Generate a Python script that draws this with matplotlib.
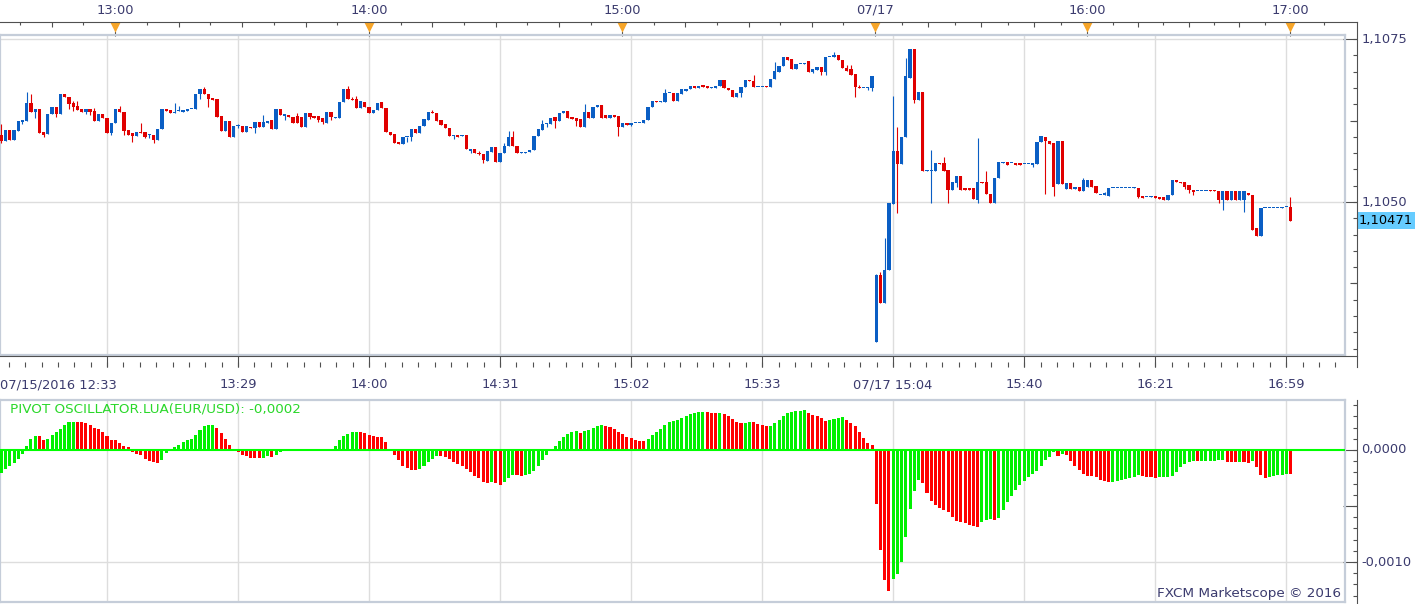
import numpy as np
import matplotlib.pyplot as plt
from matplotlib.lines import Line2D
from matplotlib.transforms import blended_transform_factory as blend

# EUR/USD 1-minute candles, 07/15 12:33 .. 07/17 16:59 (bar index on x)
opens = [
    1.10603, 1.10594, 1.10610, 1.10595, 1.10609, 1.10623, 1.10624, 1.10652, 1.10638, 1.10643,
    1.10607, 1.10604, 1.10635, 1.10646, 1.10635, 1.10666, 1.10661, 1.10652, 1.10647, 1.10643,
    1.10638, 1.10643, 1.10640, 1.10624, 1.10635, 1.10629, 1.10606, 1.10621, 1.10643, 1.10638,
    1.10610, 1.10606, 1.10601, 1.10607, 1.10607, 1.10603, 1.10603, 1.10595, 1.10612, 1.10643,
    1.10641, 1.10637, 1.10640, 1.10638, 1.10640, 1.10643, 1.10643, 1.10666, 1.10673, 1.10666,
    1.10660, 1.10658, 1.10632, 1.10609, 1.10624, 1.10600, 1.10617, 1.10617, 1.10607, 1.10615,
    1.10614, 1.10623, 1.10615, 1.10621, 1.10626, 1.10612, 1.10643, 1.10632, 1.10633, 1.10630,
    1.10632, 1.10630, 1.10615, 1.10637, 1.10632, 1.10632, 1.10629, 1.10621, 1.10638, 1.10629,
    1.10629, 1.10653, 1.10673, 1.10658, 1.10658, 1.10644, 1.10653, 1.10646, 1.10637, 1.10641,
    1.10653, 1.10644, 1.10607, 1.10604, 1.10592, 1.10589, 1.10600, 1.10600, 1.10612, 1.10606,
    1.10617, 1.10626, 1.10638, 1.10637, 1.10626, 1.10620, 1.10614, 1.10601, 1.10603, 1.10601,
    1.10603, 1.10578, 1.10581, 1.10575, 1.10574, 1.10563, 1.10577, 1.10584, 1.10561, 1.10575,
    1.10586, 1.10600, 1.10586, 1.10575, 1.10575, 1.10577, 1.10580, 1.10601, 1.10610, 1.10620,
    1.10620, 1.10630, 1.10624, 1.10637, 1.10640, 1.10630, 1.10629, 1.10627, 1.10615, 1.10638,
    1.10629, 1.10646, 1.10649, 1.10633, 1.10629, 1.10633, 1.10632, 1.10615, 1.10621, 1.10618,
    1.10621, 1.10621, 1.10621, 1.10626, 1.10646, 1.10655, 1.10653, 1.10653, 1.10667, 1.10667,
    1.10655, 1.10666, 1.10670, 1.10673, 1.10678, 1.10675, 1.10679, 1.10678, 1.10675, 1.10675,
    1.10678, 1.10687, 1.10675, 1.10672, 1.10661, 1.10667, 1.10676, 1.10687, 1.10686, 1.10676,
    1.10676, 1.10678, 1.10676, 1.10689, 1.10700, 1.10709, 1.10723, 1.10720, 1.10704, 1.10712,
    1.10712, 1.10716, 1.10699, 1.10703, 1.10707, 1.10700, 1.10723, 1.10723, 1.10726, 1.10718,
    1.10706, 1.10704, 1.10696, 1.10677, 1.10675, 1.10675, 1.10675, 1.10285, 1.10388, 1.10345,
    1.10396, 1.10497, 1.10578, 1.10558, 1.10600, 1.10690, 1.10735, 1.10656, 1.10669, 1.10548,
    1.10548, 1.10548, 1.10560, 1.10560, 1.10549, 1.10518, 1.10529, 1.10540, 1.10521, 1.10521,
    1.10521, 1.10503, 1.10531, 1.10531, 1.10512, 1.10498, 1.10537, 1.10560, 1.10561, 1.10560,
    1.10560, 1.10560, 1.10558, 1.10558, 1.10557, 1.10558, 1.10592, 1.10600, 1.10594, 1.10591,
    1.10528, 1.10594, 1.10520, 1.10529, 1.10520, 1.10523, 1.10517, 1.10523, 1.10534, 1.10525,
    1.10511, 1.10511, 1.10509, 1.10521, 1.10521, 1.10521, 1.10521, 1.10521, 1.10521, 1.10521,
    1.10509, 1.10508, 1.10508, 1.10509, 1.10508, 1.10508, 1.10503, 1.10511, 1.10534, 1.10531,
    1.10531, 1.10526, 1.10518, 1.10517, 1.10517, 1.10517, 1.10518, 1.10518, 1.10517, 1.10503,
    1.10517, 1.10503, 1.10517, 1.10503, 1.10503, 1.10514, 1.10511, 1.10460, 1.10448, 1.10491,
    1.10491, 1.10491, 1.10491, 1.10491, 1.10492, 1.10492,
]
highs = [
    1.10620, 1.10610, 1.10610, 1.10610, 1.10624, 1.10626, 1.10669, 1.10666, 1.10643, 1.10643,
    1.10607, 1.10635, 1.10646, 1.10646, 1.10666, 1.10666, 1.10661, 1.10655, 1.10655, 1.10643,
    1.10643, 1.10643, 1.10644, 1.10635, 1.10635, 1.10629, 1.10621, 1.10643, 1.10647, 1.10638,
    1.10610, 1.10606, 1.10607, 1.10621, 1.10607, 1.10604, 1.10603, 1.10612, 1.10643, 1.10643,
    1.10641, 1.10652, 1.10647, 1.10641, 1.10643, 1.10643, 1.10666, 1.10673, 1.10676, 1.10666,
    1.10660, 1.10658, 1.10632, 1.10624, 1.10624, 1.10617, 1.10620, 1.10617, 1.10617, 1.10615,
    1.10623, 1.10623, 1.10633, 1.10624, 1.10626, 1.10643, 1.10643, 1.10635, 1.10633, 1.10630,
    1.10637, 1.10630, 1.10637, 1.10637, 1.10632, 1.10632, 1.10629, 1.10638, 1.10638, 1.10630,
    1.10653, 1.10673, 1.10678, 1.10661, 1.10663, 1.10655, 1.10653, 1.10646, 1.10641, 1.10652,
    1.10653, 1.10644, 1.10607, 1.10604, 1.10592, 1.10600, 1.10600, 1.10612, 1.10612, 1.10617,
    1.10627, 1.10638, 1.10641, 1.10637, 1.10626, 1.10620, 1.10614, 1.10603, 1.10603, 1.10603,
    1.10603, 1.10581, 1.10581, 1.10578, 1.10574, 1.10578, 1.10584, 1.10584, 1.10575, 1.10591,
    1.10609, 1.10609, 1.10586, 1.10576, 1.10577, 1.10580, 1.10601, 1.10612, 1.10626, 1.10621,
    1.10629, 1.10630, 1.10637, 1.10640, 1.10640, 1.10630, 1.10629, 1.10627, 1.10650, 1.10638,
    1.10646, 1.10649, 1.10649, 1.10633, 1.10633, 1.10633, 1.10632, 1.10621, 1.10621, 1.10621,
    1.10621, 1.10621, 1.10626, 1.10646, 1.10655, 1.10655, 1.10655, 1.10673, 1.10667, 1.10667,
    1.10667, 1.10673, 1.10673, 1.10678, 1.10678, 1.10678, 1.10679, 1.10678, 1.10676, 1.10678,
    1.10687, 1.10687, 1.10675, 1.10672, 1.10667, 1.10676, 1.10687, 1.10687, 1.10695, 1.10677,
    1.10677, 1.10678, 1.10689, 1.10715, 1.10709, 1.10723, 1.10723, 1.10720, 1.10712, 1.10712,
    1.10713, 1.10716, 1.10704, 1.10707, 1.10707, 1.10723, 1.10723, 1.10730, 1.10726, 1.10718,
    1.10710, 1.10710, 1.10696, 1.10679, 1.10675, 1.10676, 1.10693, 1.10390, 1.10392, 1.10445,
    1.10498, 1.10663, 1.10615, 1.10600, 1.10721, 1.10735, 1.10735, 1.10669, 1.10669, 1.10549,
    1.10580, 1.10560, 1.10560, 1.10569, 1.10549, 1.10531, 1.10540, 1.10540, 1.10521, 1.10521,
    1.10521, 1.10598, 1.10531, 1.10548, 1.10512, 1.10537, 1.10561, 1.10561, 1.10561, 1.10560,
    1.10560, 1.10560, 1.10558, 1.10558, 1.10560, 1.10592, 1.10601, 1.10600, 1.10594, 1.10591,
    1.10594, 1.10594, 1.10529, 1.10529, 1.10523, 1.10523, 1.10537, 1.10534, 1.10534, 1.10525,
    1.10511, 1.10515, 1.10521, 1.10521, 1.10521, 1.10521, 1.10521, 1.10521, 1.10523, 1.10521,
    1.10509, 1.10508, 1.10509, 1.10509, 1.10508, 1.10508, 1.10511, 1.10534, 1.10534, 1.10531,
    1.10531, 1.10526, 1.10518, 1.10517, 1.10517, 1.10517, 1.10518, 1.10518, 1.10517, 1.10517,
    1.10517, 1.10517, 1.10517, 1.10517, 1.10517, 1.10514, 1.10511, 1.10460, 1.10491, 1.10491,
    1.10491, 1.10491, 1.10491, 1.10492, 1.10492, 1.10508,
]
lows = [
    1.10591, 1.10594, 1.10595, 1.10595, 1.10609, 1.10620, 1.10624, 1.10638, 1.10629, 1.10606,
    1.10600, 1.10604, 1.10635, 1.10630, 1.10635, 1.10661, 1.10643, 1.10640, 1.10641, 1.10638,
    1.10635, 1.10633, 1.10624, 1.10624, 1.10629, 1.10606, 1.10603, 1.10621, 1.10638, 1.10603,
    1.10603, 1.10592, 1.10601, 1.10606, 1.10598, 1.10598, 1.10591, 1.10595, 1.10612, 1.10640,
    1.10637, 1.10637, 1.10640, 1.10638, 1.10640, 1.10643, 1.10643, 1.10658, 1.10666, 1.10646,
    1.10656, 1.10630, 1.10609, 1.10609, 1.10600, 1.10600, 1.10614, 1.10607, 1.10607, 1.10614,
    1.10606, 1.10615, 1.10615, 1.10621, 1.10612, 1.10612, 1.10633, 1.10626, 1.10630, 1.10621,
    1.10621, 1.10615, 1.10615, 1.10627, 1.10629, 1.10623, 1.10620, 1.10621, 1.10626, 1.10629,
    1.10629, 1.10653, 1.10658, 1.10656, 1.10644, 1.10644, 1.10646, 1.10637, 1.10637, 1.10641,
    1.10644, 1.10607, 1.10603, 1.10591, 1.10589, 1.10589, 1.10592, 1.10594, 1.10606, 1.10606,
    1.10617, 1.10626, 1.10637, 1.10624, 1.10618, 1.10614, 1.10601, 1.10597, 1.10600, 1.10601,
    1.10581, 1.10575, 1.10575, 1.10572, 1.10560, 1.10563, 1.10577, 1.10561, 1.10561, 1.10575,
    1.10586, 1.10586, 1.10575, 1.10575, 1.10575, 1.10577, 1.10580, 1.10601, 1.10610, 1.10615,
    1.10620, 1.10614, 1.10624, 1.10637, 1.10629, 1.10627, 1.10617, 1.10615, 1.10615, 1.10629,
    1.10629, 1.10646, 1.10629, 1.10629, 1.10629, 1.10630, 1.10601, 1.10615, 1.10618, 1.10617,
    1.10621, 1.10621, 1.10621, 1.10626, 1.10646, 1.10653, 1.10653, 1.10653, 1.10667, 1.10655,
    1.10655, 1.10666, 1.10670, 1.10673, 1.10675, 1.10675, 1.10677, 1.10675, 1.10675, 1.10675,
    1.10678, 1.10675, 1.10672, 1.10661, 1.10661, 1.10661, 1.10676, 1.10686, 1.10676, 1.10676,
    1.10676, 1.10676, 1.10676, 1.10689, 1.10700, 1.10709, 1.10718, 1.10704, 1.10704, 1.10712,
    1.10712, 1.10699, 1.10698, 1.10703, 1.10695, 1.10695, 1.10723, 1.10723, 1.10718, 1.10706,
    1.10701, 1.10695, 1.10661, 1.10675, 1.10675, 1.10672, 1.10670, 1.10285, 1.10345, 1.10345,
    1.10396, 1.10497, 1.10483, 1.10558, 1.10600, 1.10690, 1.10652, 1.10656, 1.10548, 1.10548,
    1.10498, 1.10548, 1.10558, 1.10548, 1.10498, 1.10518, 1.10523, 1.10518, 1.10518, 1.10518,
    1.10505, 1.10498, 1.10529, 1.10512, 1.10498, 1.10498, 1.10537, 1.10560, 1.10557, 1.10560,
    1.10557, 1.10557, 1.10558, 1.10558, 1.10554, 1.10558, 1.10592, 1.10512, 1.10589, 1.10509,
    1.10528, 1.10528, 1.10520, 1.10520, 1.10520, 1.10517, 1.10517, 1.10523, 1.10523, 1.10514,
    1.10511, 1.10511, 1.10509, 1.10521, 1.10521, 1.10521, 1.10521, 1.10521, 1.10521, 1.10506,
    1.10506, 1.10508, 1.10508, 1.10506, 1.10505, 1.10503, 1.10503, 1.10511, 1.10531, 1.10529,
    1.10520, 1.10514, 1.10511, 1.10517, 1.10517, 1.10517, 1.10517, 1.10517, 1.10498, 1.10488,
    1.10503, 1.10503, 1.10503, 1.10503, 1.10485, 1.10511, 1.10457, 1.10448, 1.10448, 1.10491,
    1.10491, 1.10491, 1.10491, 1.10491, 1.10492, 1.10471,
]
closes = [
    1.10594, 1.10610, 1.10595, 1.10610, 1.10624, 1.10626, 1.10652, 1.10638, 1.10643, 1.10606,
    1.10603, 1.10635, 1.10646, 1.10635, 1.10666, 1.10661, 1.10650, 1.10646, 1.10641, 1.10638,
    1.10643, 1.10638, 1.10624, 1.10635, 1.10629, 1.10606, 1.10621, 1.10643, 1.10638, 1.10609,
    1.10603, 1.10601, 1.10607, 1.10606, 1.10600, 1.10603, 1.10595, 1.10612, 1.10643, 1.10640,
    1.10637, 1.10638, 1.10640, 1.10641, 1.10643, 1.10643, 1.10666, 1.10673, 1.10666, 1.10658,
    1.10656, 1.10630, 1.10609, 1.10624, 1.10600, 1.10617, 1.10617, 1.10607, 1.10617, 1.10614,
    1.10623, 1.10615, 1.10623, 1.10624, 1.10612, 1.10643, 1.10633, 1.10635, 1.10630, 1.10621,
    1.10621, 1.10615, 1.10637, 1.10630, 1.10629, 1.10626, 1.10623, 1.10638, 1.10630, 1.10630,
    1.10653, 1.10673, 1.10658, 1.10656, 1.10644, 1.10655, 1.10646, 1.10637, 1.10641, 1.10652,
    1.10644, 1.10607, 1.10603, 1.10591, 1.10589, 1.10600, 1.10600, 1.10612, 1.10606, 1.10617,
    1.10627, 1.10638, 1.10637, 1.10624, 1.10618, 1.10614, 1.10601, 1.10603, 1.10600, 1.10603,
    1.10581, 1.10581, 1.10575, 1.10574, 1.10564, 1.10578, 1.10584, 1.10561, 1.10575, 1.10586,
    1.10600, 1.10586, 1.10575, 1.10576, 1.10577, 1.10580, 1.10601, 1.10612, 1.10620, 1.10621,
    1.10629, 1.10624, 1.10637, 1.10640, 1.10629, 1.10627, 1.10624, 1.10615, 1.10638, 1.10629,
    1.10646, 1.10649, 1.10629, 1.10629, 1.10633, 1.10630, 1.10615, 1.10621, 1.10618, 1.10621,
    1.10621, 1.10621, 1.10626, 1.10646, 1.10655, 1.10653, 1.10655, 1.10667, 1.10667, 1.10655,
    1.10667, 1.10673, 1.10673, 1.10678, 1.10675, 1.10678, 1.10677, 1.10675, 1.10676, 1.10678,
    1.10687, 1.10675, 1.10672, 1.10661, 1.10667, 1.10676, 1.10687, 1.10686, 1.10676, 1.10677,
    1.10677, 1.10676, 1.10689, 1.10701, 1.10709, 1.10723, 1.10718, 1.10704, 1.10712, 1.10712,
    1.10713, 1.10699, 1.10704, 1.10707, 1.10700, 1.10723, 1.10723, 1.10726, 1.10718, 1.10706,
    1.10701, 1.10695, 1.10676, 1.10675, 1.10675, 1.10676, 1.10693, 1.10388, 1.10345, 1.10396,
    1.10498, 1.10578, 1.10558, 1.10600, 1.10693, 1.10735, 1.10656, 1.10669, 1.10548, 1.10549,
    1.10549, 1.10560, 1.10558, 1.10548, 1.10518, 1.10531, 1.10540, 1.10518, 1.10518, 1.10518,
    1.10505, 1.10531, 1.10529, 1.10512, 1.10498, 1.10537, 1.10561, 1.10561, 1.10557, 1.10560,
    1.10557, 1.10557, 1.10558, 1.10558, 1.10560, 1.10592, 1.10601, 1.10594, 1.10589, 1.10523,
    1.10594, 1.10528, 1.10529, 1.10520, 1.10523, 1.10517, 1.10534, 1.10534, 1.10523, 1.10514,
    1.10511, 1.10514, 1.10521, 1.10521, 1.10521, 1.10521, 1.10521, 1.10521, 1.10521, 1.10508,
    1.10506, 1.10508, 1.10509, 1.10506, 1.10505, 1.10503, 1.10511, 1.10534, 1.10531, 1.10529,
    1.10523, 1.10518, 1.10515, 1.10517, 1.10517, 1.10517, 1.10517, 1.10517, 1.10503, 1.10517,
    1.10503, 1.10517, 1.10503, 1.10517, 1.10517, 1.10511, 1.10457, 1.10448, 1.10491, 1.10491,
    1.10491, 1.10491, 1.10491, 1.10492, 1.10492, 1.10471,
]

# pivot oscillator histogram and its colour (g = green, r = red)
pivot_osc = [
    -0.000205, -0.000170, -0.000146, -0.000116, -0.000077, -0.000039, 0.000039, 0.000098, 0.000128, 0.000122,
    0.000092, 0.000101, 0.000137, 0.000158, 0.000190, 0.000226, 0.000247, 0.000253, 0.000252, 0.000247,
    0.000238, 0.000226, 0.000199, 0.000185, 0.000164, 0.000122, 0.000090, 0.000086, 0.000065, 0.000039,
    0.000027, -0.000015, -0.000036, -0.000048, -0.000077, -0.000101, -0.000110, -0.000119, -0.000086, -0.000027,
    0.000003, 0.000027, 0.000048, 0.000071, 0.000092, 0.000101, 0.000137, 0.000176, 0.000211, 0.000220,
    0.000226, 0.000196, 0.000152, 0.000098, 0.000048, 0.000009, -0.000015, -0.000042, -0.000057, -0.000074,
    -0.000075, -0.000076, -0.000074, -0.000057, -0.000065, -0.000042, -0.000021, -0.000003, 0.000002, -0.000003,
    0.000002, -0.000003, 0.000002, 0.000009, -0.000003, -0.000003, 0.000009, 0.000009, 0.000009, 0.000039,
    0.000092, 0.000128, 0.000146, 0.000158, 0.000164, 0.000158, 0.000152, 0.000137, 0.000122, 0.000119,
    0.000116, 0.000074, 0.000009, -0.000048, -0.000092, -0.000140, -0.000164, -0.000176, -0.000177, -0.000167,
    -0.000146, -0.000110, -0.000077, -0.000057, -0.000058, -0.000059, -0.000080, -0.000104, -0.000122, -0.000140,
    -0.000167, -0.000199, -0.000229, -0.000250, -0.000289, -0.000298, -0.000289, -0.000298, -0.000310, -0.000289,
    -0.000253, -0.000226, -0.000227, -0.000235, -0.000226, -0.000217, -0.000190, -0.000146, -0.000086, -0.000042,
    0.000003, 0.000039, 0.000083, 0.000119, 0.000146, 0.000164, 0.000165, 0.000155, 0.000173, 0.000182,
    0.000199, 0.000217, 0.000226, 0.000217, 0.000208, 0.000190, 0.000164, 0.000146, 0.000119, 0.000110,
    0.000092, 0.000083, 0.000082, 0.000101, 0.000137, 0.000164, 0.000190, 0.000226, 0.000253, 0.000262,
    0.000271, 0.000289, 0.000307, 0.000324, 0.000333, 0.000342, 0.000343, 0.000342, 0.000333, 0.000332,
    0.000333, 0.000324, 0.000307, 0.000280, 0.000253, 0.000244, 0.000245, 0.000253, 0.000252, 0.000235,
    0.000226, 0.000217, 0.000218, 0.000244, 0.000271, 0.000307, 0.000333, 0.000342, 0.000351, 0.000352,
    0.000353, 0.000333, 0.000315, 0.000307, 0.000289, 0.000262, 0.000271, 0.000280, 0.000289, 0.000298,
    0.000271, 0.000244, 0.000217, 0.000164, 0.000110, 0.000065, 0.000048, -0.000479, -0.000890, -0.001164,
    -0.001262, -0.001155, -0.001110, -0.001003, -0.000780, -0.000530, -0.000369, -0.000271, -0.000298, -0.000387,
    -0.000458, -0.000494, -0.000518, -0.000533, -0.000557, -0.000601, -0.000637, -0.000646, -0.000652, -0.000667,
    -0.000676, -0.000687, -0.000646, -0.000628, -0.000613, -0.000625, -0.000607, -0.000539, -0.000467, -0.000414,
    -0.000360, -0.000312, -0.000277, -0.000244, -0.000211, -0.000190, -0.000146, -0.000086, -0.000065, -0.000021,
    -0.000057, -0.000036, -0.000045, -0.000101, -0.000146, -0.000182, -0.000217, -0.000229, -0.000235, -0.000238,
    -0.000265, -0.000280, -0.000286, -0.000289, -0.000274, -0.000265, -0.000256, -0.000250, -0.000241, -0.000226,
    -0.000235, -0.000244, -0.000245, -0.000246, -0.000244, -0.000243, -0.000242, -0.000229, -0.000196, -0.000155,
    -0.000128, -0.000110, -0.000101, -0.000102, -0.000101, -0.000100, -0.000099, -0.000095, -0.000094, -0.000086,
    -0.000104, -0.000110, -0.000111, -0.000110, -0.000111, -0.000112, -0.000101, -0.000155, -0.000226, -0.000253,
    -0.000244, -0.000235, -0.000226, -0.000220, -0.000211, -0.000212,
]
osc_dir = ("gggggggggr" "rgggggggrr" "rrrrrrrrrr" "rrrrrrrrgg" "gggggggggg"
           "grrrrrrrrr" "rrggrggggr" "grggrrgggg" "gggggrrrrr" "rrrrrrrrrg"
           "ggggrrrrrr" "rrrrrrgrrg" "ggrrgggggg" "gggggggrgg" "gggrrrrrrr"
           "rrrggggggg" "gggggggrrr" "grrrrrggrr" "rrgggggggg" "grrrrrgggg"
           "rrrrrrrrrr" "rgggggggrr" "rrrrrrrrrr" "rrgggrgggg" "gggggggggg"
           "rgrrrrrrrr" "rrrggggggg" "rrrrgggggg" "gggrgggggg" "rrrgrrgrrr"
           "gggggr")

top_labels = ['13:00', '14:00', '15:00', '07/17', '16:00', '17:00']
top_pos = [26.9, 87.0, 146.9, 206.7, 256.9, 304.9]
bottom_labels = ['07/15/2016 12:33', '13:29', '14:00', '14:31', '15:02', '15:33',
                 '07/17 15:04', '15:40', '16:21', '16:59']
bottom_pos = [0, 56, 87, 118, 149, 180, 211, 242, 273, 304]
price_labels = ['1,1075', '1,1050']
price_levels = [1.1075, 1.1050]
osc_labels = ['0,0000', '-0,0010']
osc_levels = [0.0, -0.0010]
last_price = 1.10471

W, H = 1423, 604
fig = plt.figure(figsize=(W / 100, H / 100), dpi=100)
fig.patch.set_facecolor('white')


def fx(px):
    return px / W


def fy(py):
    return 1 - py / H


txt = '#3b3b6e'
frame = '#c5cdd9'
rule = '#505050'
gridc = '#dddddd'
fs = 9.4
xmin, xmax = -0.32, 317.9

ax = fig.add_axes([0, fy(355), fx(1345), 320 / H])
ax2 = fig.add_axes([0, fy(602), fx(1345), 202 / H])

x = np.arange(len(closes))
o = np.array(opens)
c = np.array(closes)
hi = np.array(highs)
lo = np.array(lows)
cc = np.where(c >= o, '#0a5ec4', '#e00000')

ax.vlines(x, lo, hi, colors=cc, lw=0.8, zorder=3)
ax.bar(x, np.maximum(np.abs(c - o), 0.000014), bottom=np.minimum(o, c),
       width=0.77, color=cc, linewidth=0, zorder=4)
ax.set_ylim(1.102653, 1.107562)

oc = ['#00f000' if d == 'g' else '#ff0000' for d in osc_dir]
ax2.bar(x, pivot_osc, width=0.72, color=oc, linewidth=0, zorder=3)
ax2.axhline(0, color='#00ff00', lw=1.5, zorder=5)
ax2.axhline(-0.0010, color=gridc, lw=1, zorder=0)
ax2.set_ylim(-0.001357, 0.000446)

grid_pos = list(range(25, 306, 31))
for a in (ax, ax2):
    a.set_xlim(xmin, xmax)
    a.set_xticks([])
    a.set_yticks([])
    for g in grid_pos:
        a.axvline(g, color=gridc, lw=1, zorder=0)
    for s in a.spines.values():
        s.set_color(frame)
        s.set_linewidth(1.6)
for lv in price_levels:
    ax.axhline(lv, color=gridc, lw=1, zorder=0)

# top time ruler
tt = blend(ax.transData, fig.transFigure)
fig.add_artist(Line2D([0, fx(1357)], [fy(22), fy(22)], color=rule, lw=0.8))
ticks = [top_pos[0] - 7.5 * k for k in (3, 2, 1)]
for a, b in zip(top_pos[:-1], top_pos[1:]):
    ticks += list(np.linspace(a, b, 9)[:-1])
ticks += [top_pos[-1], top_pos[-1] + 8]
for i, t in enumerate(ticks):
    if t < xmin or t > xmax:
        continue
    ln = 5 if i % 2 == 1 else 3
    ax.vlines(t, fy(22), fy(22 + ln), transform=tt, color=rule, lw=0.8, clip_on=False)
ax.vlines(top_pos, fy(31), fy(36), transform=tt, color=rule, lw=0.8, clip_on=False)
ax.scatter(top_pos, [fy(26.5)] * len(top_pos), marker='v', s=55, color='#f7a528',
           linewidths=0, transform=tt, clip_on=False, zorder=6)
for lab, p in zip(top_labels, top_pos):
    ax.text(p, fy(10), lab, transform=tt, ha='center', va='center', fontsize=fs, color=txt)

# bottom time ruler
fig.add_artist(Line2D([0, fx(1357)], [fy(356), fy(356)], color=rule, lw=0.8))
minor = np.arange(grid_pos[0] - 6 * 31 / 8, xmax, 31 / 8)
ax.vlines([m for m in minor if m > xmin], fy(362), fy(367), transform=tt, color=rule, lw=0.8, clip_on=False)
ax.vlines(grid_pos, fy(356), fy(367), transform=tt, color=rule, lw=0.8, clip_on=False)
for i, (lab, p) in enumerate(zip(bottom_labels, bottom_pos)):
    ax.text(p if i else xmin, fy(385), lab, transform=tt, ha='left' if i == 0 else 'center',
            va='center', fontsize=fs, color=txt)

# price axis on the right
tr = blend(fig.transFigure, ax.transData)
fig.add_artist(Line2D([fx(1357), fx(1357)], [fy(22), fy(367)], color=rule, lw=0.8))
ax.hlines(price_levels, fx(1343), fx(1357), transform=tr, color=rule, lw=0.8, clip_on=False)
ax.hlines([1.10375, 1.10625], fx(1350), fx(1357), transform=tr, color=rule, lw=0.8, clip_on=False)
ax.hlines(np.arange(1.10275, 1.10755, 0.00025), fx(1353), fx(1357), transform=tr,
          color=rule, lw=0.8, clip_on=False)
for lab, lv in zip(price_labels, price_levels):
    ax.text(fx(1362), lv, lab, transform=tr, ha='left', va='center', fontsize=fs, color=txt)
ax.text(fx(1359), last_price, '1,10471', transform=tr, ha='left', va='center', fontsize=fs,
        color='black', bbox=dict(boxstyle='square,pad=0.15', fc='#66ccff', ec='none'))

# oscillator axis on the right
tr2 = blend(fig.transFigure, ax2.transData)
fig.add_artist(Line2D([fx(1357), fx(1357)], [fy(400), fy(604)], color=rule, lw=0.8))
ax2.hlines(osc_levels + [-0.0005], fx(1343), fx(1357), transform=tr2, color=rule, lw=0.8, clip_on=False)
ax2.hlines(np.arange(-0.0013, 0.00045, 0.0001), fx(1353), fx(1357), transform=tr2,
           color=rule, lw=0.8, clip_on=False)
for lab, lv in zip(osc_labels, osc_levels):
    ax2.text(fx(1361), lv, lab, transform=tr2, ha='left', va='center', fontsize=fs, color=txt)

fig.text(fx(10), fy(409), 'PIVOT OSCILLATOR.LUA(EUR/USD): -0,0002', ha='left', va='center',
         fontsize=9.7, color='#2ad82a')
fig.text(fx(1341), fy(594), 'FXCM Marketscope \u00a9 2016', ha='right', va='center',
         fontsize=9.7, color=txt)

fig.savefig('out.png', dpi=100, facecolor='white')
